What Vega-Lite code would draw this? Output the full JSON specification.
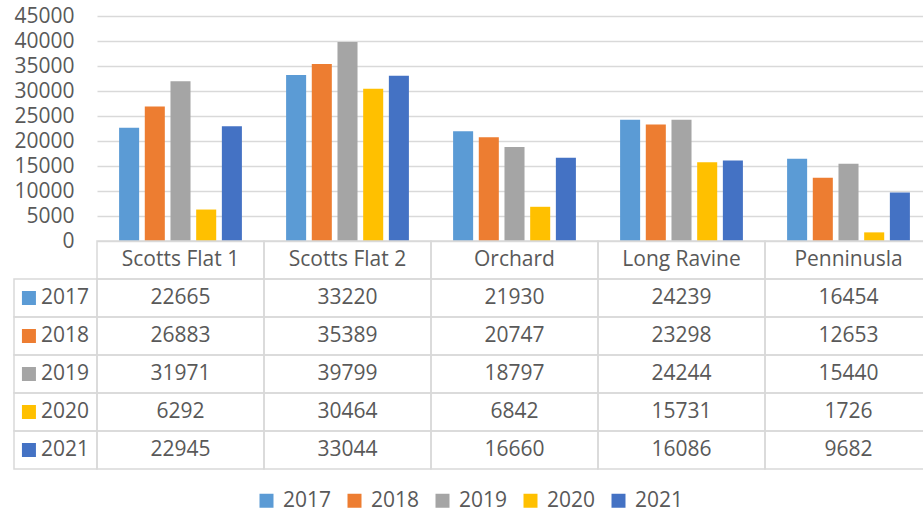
{
  "$schema": "https://vega.github.io/schema/vega-lite/v6.json",
  "background": "white",
  "padding": {"left": 13, "top": 5, "right": 0, "bottom": 0},
  "datasets": {
    "d": [
      {"site": "Scotts Flat 1", "year": "2017", "value": 22665},
      {"site": "Scotts Flat 1", "year": "2018", "value": 26883},
      {"site": "Scotts Flat 1", "year": "2019", "value": 31971},
      {"site": "Scotts Flat 1", "year": "2020", "value": 6292},
      {"site": "Scotts Flat 1", "year": "2021", "value": 22945},
      {"site": "Scotts Flat 2", "year": "2017", "value": 33220},
      {"site": "Scotts Flat 2", "year": "2018", "value": 35389},
      {"site": "Scotts Flat 2", "year": "2019", "value": 39799},
      {"site": "Scotts Flat 2", "year": "2020", "value": 30464},
      {"site": "Scotts Flat 2", "year": "2021", "value": 33044},
      {"site": "Orchard", "year": "2017", "value": 21930},
      {"site": "Orchard", "year": "2018", "value": 20747},
      {"site": "Orchard", "year": "2019", "value": 18797},
      {"site": "Orchard", "year": "2020", "value": 6842},
      {"site": "Orchard", "year": "2021", "value": 16660},
      {"site": "Long Ravine", "year": "2017", "value": 24239},
      {"site": "Long Ravine", "year": "2018", "value": 23298},
      {"site": "Long Ravine", "year": "2019", "value": 24244},
      {"site": "Long Ravine", "year": "2020", "value": 15731},
      {"site": "Long Ravine", "year": "2021", "value": 16086},
      {"site": "Penninusla", "year": "2017", "value": 16454},
      {"site": "Penninusla", "year": "2018", "value": 12653},
      {"site": "Penninusla", "year": "2019", "value": 15440},
      {"site": "Penninusla", "year": "2020", "value": 1726},
      {"site": "Penninusla", "year": "2021", "value": 9682}
    ]
  },
  "columns": 2,
  "spacing": 0,
  "bounds": "flush",
  "align": "each",
  "resolve": {"scale": {"x": "independent", "y": "independent"}},
  "concat": [
    {
      "width": 83,
      "height": 225,
      "data": {"values": []},
      "mark": "point",
      "encoding": {}
    },
    {
      "width": 835,
      "height": 225,
      "data": {"name": "d"},
      "mark": {"type": "bar"},
      "encoding": {
        "x": {"field": "site", "type": "nominal", "scale": {"domain": ["Scotts Flat 1", "Scotts Flat 2", "Orchard", "Long Ravine", "Penninusla"], "paddingInner": 0, "paddingOuter": 0}, "axis": null},
        "xOffset": {"field": "year", "type": "nominal", "scale": {"domain": ["2017", "2018", "2019", "2020", "2021"], "paddingInner": 0.22, "paddingOuter": 0.86}},
        "y": {"field": "value", "type": "quantitative", "scale": {"domain": [0, 45000], "nice": false},
          "axis": {"values": [0, 5000, 10000, 15000, 20000, 25000, 30000, 35000, 40000, 45000], "format": "d", "title": null, "domain": false, "ticks": false, "tickSize": 0, "labelPadding": 23, "labelFontSize": 21, "labelColor": "#595959", "gridColor": "#d9d9d9", "gridWidth": 1.5}},
        "color": {"field": "year", "type": "nominal", "scale": {"domain": ["2017", "2018", "2019", "2020", "2021"], "range": ["#5B9BD5", "#ED7D31", "#A5A5A5", "#FFC000", "#4472C4"]}, "legend": {"title": null}}
      }
    },
    {
      "width": 83,
      "height": 228,
      "data": {"name": "d"},
      "transform": [{"aggregate": [{"op": "count", "as": "n"}], "groupby": ["year"]}],
      "encoding": {
        "y": {"field": "year", "type": "nominal", "scale": {"domain": ["Site", "2017", "2018", "2019", "2020", "2021"], "paddingInner": 0, "paddingOuter": 0}, "axis": null}
      },
      "layer": [
        {"mark": {"type": "rect", "fill": "transparent", "stroke": "#d9d9d9", "strokeWidth": 1.5}},
        {"mark": {"type": "point", "shape": "square", "filled": true, "size": 196, "opacity": 1},
          "encoding": {
            "x": {"datum": 0.18, "type": "quantitative", "scale": {"domain": [0, 1]}, "axis": null},
            "color": {"field": "year", "type": "nominal"}
          }},
        {"mark": {"type": "text", "align": "left", "baseline": "middle", "fontSize": 21, "color": "#595959"},
          "encoding": {
            "x": {"datum": 0.325, "type": "quantitative"},
            "text": {"field": "year"}
          }}
      ]
    },
    {
      "width": 835,
      "height": 228,
      "data": {"name": "d"},
      "encoding": {
        "x": {"field": "site", "type": "nominal", "scale": {"domain": ["Scotts Flat 1", "Scotts Flat 2", "Orchard", "Long Ravine", "Penninusla"], "paddingInner": 0, "paddingOuter": 0}, "axis": null}
      },
      "layer": [
        {"transform": [{"aggregate": [{"op": "count", "as": "n"}], "groupby": ["site"]}],
          "mark": {"type": "rect", "fill": "transparent", "stroke": "#d9d9d9", "strokeWidth": 1.5},
          "encoding": {"y": {"datum": "Site", "type": "nominal", "scale": {"domain": ["Site", "2017", "2018", "2019", "2020", "2021"], "paddingInner": 0, "paddingOuter": 0}, "axis": null}}},
        {"transform": [{"aggregate": [{"op": "count", "as": "n"}], "groupby": ["site"]}],
          "mark": {"type": "text", "baseline": "middle", "fontSize": 21, "color": "#595959"},
          "encoding": {"y": {"datum": "Site", "type": "nominal"}, "text": {"field": "site"}}},
        {"mark": {"type": "rect", "fill": "transparent", "stroke": "#d9d9d9", "strokeWidth": 1.5},
          "encoding": {"y": {"field": "year", "type": "nominal"}}},
        {"mark": {"type": "text", "baseline": "middle", "fontSize": 21, "color": "#595959"},
          "encoding": {"y": {"field": "year", "type": "nominal"}, "text": {"field": "value", "type": "quantitative", "format": "d"}}}
      ]
    }
  ],
  "config": {
    "font": "Open Sans",
    "view": {"stroke": null},
    "legend": {
      "orient": "none",
      "legendX": 242,
      "legendY": 474,
      "direction": "horizontal",
      "symbolType": "square",
      "symbolSize": 196,
      "symbolStrokeWidth": 0,
      "labelFontSize": 21,
      "labelColor": "#595959",
      "labelOffset": 6,
      "columnPadding": 12,
      "padding": 0
    }
  }
}
